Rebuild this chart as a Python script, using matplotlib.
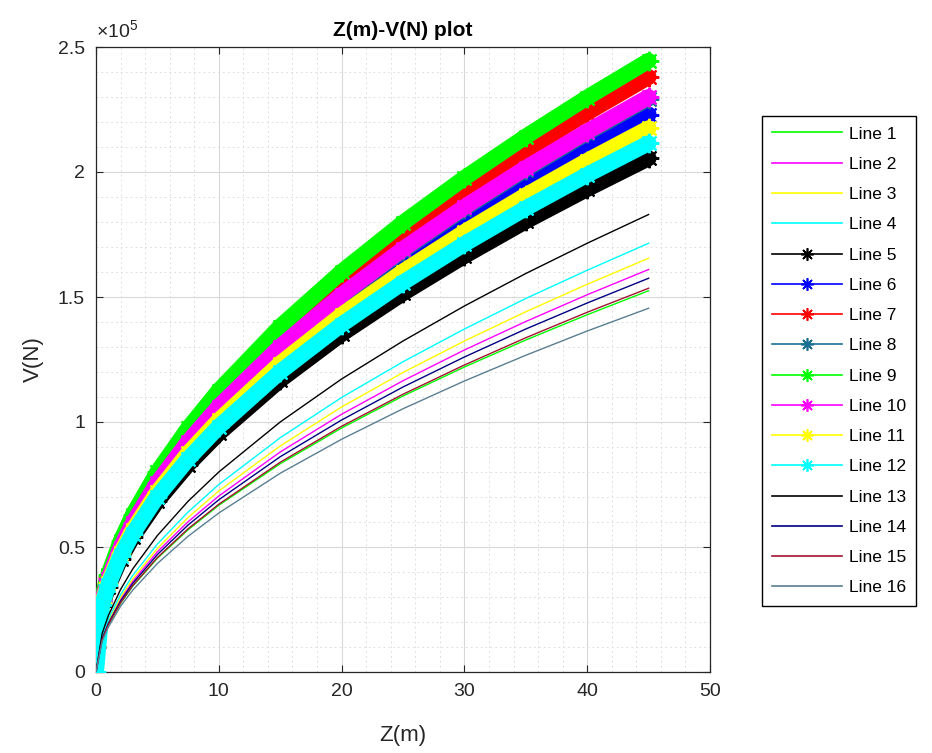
import matplotlib
matplotlib.use('Agg')
import matplotlib.pyplot as plt
from matplotlib.lines import Line2D
from matplotlib.ticker import MultipleLocator, FuncFormatter

plt.rcParams['font.family'] = ['Liberation Sans', 'DejaVu Sans']
plt.rcParams['mathtext.fontset'] = 'custom'
plt.rcParams['mathtext.rm'] = 'Liberation Sans'

# profundidad Z (m)
Z = [0, 0.5, 1, 2, 3, 5, 7.5, 10, 15, 20, 25, 30, 35, 40, 45]

# V (N), en unidades de 1e5
V1 = [0, .128, .188, .275, .344, .455, .569, .667, .833, .976, 1.104, 1.220, 1.328, 1.429, 1.525]
V2 = [0, .136, .198, .291, .363, .481, .601, .704, .880, 1.031, 1.165, 1.288, 1.402, 1.509, 1.610]
V3 = [0, .139, .204, .299, .373, .494, .618, .724, .904, 1.060, 1.198, 1.324, 1.441, 1.551, 1.655]
V4 = [0, .144, .211, .310, .387, .512, .640, .750, .937, 1.098, 1.241, 1.372, 1.494, 1.607, 1.715]
V5 = [.10, .265, .341, .453, .541, .684, .830, .955, 1.168, 1.352, 1.515, 1.664, 1.803, 1.932, 2.055]
V6 = [.10, .279, .362, .484, .580, .736, .895, 1.031, 1.264, 1.464, 1.641, 1.804, 1.955, 2.096, 2.230]
V7 = [.10, .292, .381, .512, .614, .781, .951, 1.097, 1.346, 1.560, 1.750, 1.924, 2.086, 2.237, 2.380]
V8 = [.10, .283, .368, .494, .592, .753, .917, 1.057, 1.297, 1.503, 1.686, 1.854, 2.010, 2.156, 2.294]
V9 = [.10, .297, .389, .523, .629, .800, .975, 1.126, 1.382, 1.601, 1.797, 1.976, 2.142, 2.298, 2.445]
V10 = [.10, .285, .371, .497, .596, .757, .921, 1.062, 1.302, 1.508, 1.692, 1.860, 2.016, 2.162, 2.300]
V11 = [.10, .275, .356, .475, .568, .720, .875, 1.007, 1.234, 1.428, 1.602, 1.760, 1.907, 2.045, 2.175]
V12 = [0, .270, .348, .464, .554, .702, .852, .981, 1.201, 1.390, 1.558, 1.712, 1.855, 1.989, 2.115]
V13 = [0, .154, .225, .330, .413, .546, .683, .800, 1.000, 1.172, 1.324, 1.464, 1.594, 1.715, 1.830]
V14 = [0, .133, .194, .284, .355, .470, .588, .689, .861, 1.008, 1.140, 1.260, 1.372, 1.476, 1.575]
V15 = [0, .129, .189, .277, .346, .458, .573, .671, .839, .983, 1.111, 1.228, 1.337, 1.439, 1.535]
V16 = [0, .123, .179, .263, .328, .434, .543, .636, .795, .931, 1.053, 1.164, 1.267, 1.364, 1.455]

series = [V1, V2, V3, V4, V5, V6, V7, V8, V9, V10, V11, V12, V13, V14, V15, V16]
labels = ['Line %d' % (i + 1) for i in range(16)]
colores = ['#00ff00', '#ff00ff', '#ffff00', '#00ffff',
           '#000000', '#0000ff', '#ff0000', '#1a6f93',
           '#00ff00', '#ff00ff', '#ffff00', '#00ffff',
           '#000000', '#000080', '#a2142f', '#5a7f92']
gruesa = [False] * 4 + [True] * 8 + [False] * 4
asterisco = (8, 2, 0)
gris = '#262626'

fig = plt.figure(figsize=(9.32, 7.53), dpi=100)
ax = fig.add_axes([96 / 932, 81 / 753, 614 / 932, 625 / 753])

handles = []
for v, lab, c, g in zip(series, labels, colores, gruesa):
    if g:
        ax.plot(Z, v, color=c, lw=11.5, solid_capstyle='round',
                marker=asterisco, ms=14, mew=1.5, zorder=3)
        handles.append(Line2D([], [], color=c, lw=1.2, marker=asterisco, ms=9, mew=1.2))
    else:
        ax.plot(Z, v, color=c, lw=1.0, zorder=3)
        handles.append(Line2D([], [], color=c, lw=1.2))

ax.set_xlim(0, 50)
ax.set_ylim(0, 2.5)
ax.xaxis.set_major_locator(MultipleLocator(10))
ax.xaxis.set_minor_locator(MultipleLocator(2))
ax.yaxis.set_major_locator(MultipleLocator(0.5))
ax.yaxis.set_minor_locator(MultipleLocator(0.1))
ax.yaxis.set_major_formatter(FuncFormatter(lambda y, p: '%g' % y))
ax.grid(which='major', color='#d8d8d8', lw=0.8, ls='-', zorder=0)
ax.grid(which='minor', color='#e0e0e0', lw=0.7, ls=(0, (2, 3)), zorder=0)
ax.set_axisbelow(True)
ax.tick_params(which='major', direction='in', length=5, width=0.8, top=True, right=True,
               labelsize=14, colors=gris, pad=8)
ax.tick_params(which='minor', length=0)
for s in ax.spines.values():
    s.set_color(gris)
    s.set_linewidth(0.9)

ax.text(0.0, 1.008, r'$\times10^{5}$', transform=ax.transAxes, ha='left', va='bottom',
        fontsize=14, color=gris)
ax.set_title('Z(m)-V(N) plot', fontsize=15, fontweight='bold', pad=8)
ax.set_xlabel('Z(m)', fontsize=16, color=gris, labelpad=18)
ax.set_ylabel('V(N)', fontsize=16, color=gris, labelpad=10)

fig.legend(handles, labels, loc='upper left', bbox_to_anchor=(762 / 932, 1 - 116 / 753),
           fontsize=12.5, frameon=True, fancybox=False, framealpha=1, edgecolor='black',
           handlelength=4.0, handletextpad=0.4, labelspacing=0.87, borderpad=0.6,
           borderaxespad=0)

fig.savefig('out.png', dpi=100)
